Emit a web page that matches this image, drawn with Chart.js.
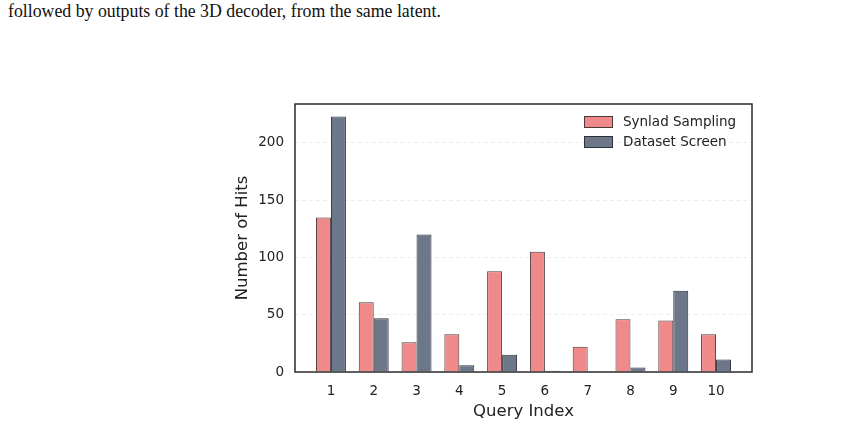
<!DOCTYPE html>
<html>
<head>
<meta charset="utf-8">
<script src="https://cdn.jsdelivr.net/npm/chart.js@4.4.1/dist/chart.umd.min.js"></script>
<style>
  html, body { margin: 0; padding: 0; background: #fff; }
  #wrap { position: relative; width: 865px; height: 425px; }
  #caption { position: absolute; left: 8px; top: 1px; font-family: "Liberation Serif", "DejaVu Serif", serif; font-size: 17.8px; color: #111; white-space: nowrap; }
  canvas { position: absolute; left: 0; top: 0; }
</style>
</head>
<body>
<div id="wrap">
  <div id="caption">followed by outputs of the 3D decoder, from the same latent.</div>
  <canvas id="chart" width="865" height="425"></canvas>
</div>
<script>
// dados
const queryIndex = [1, 2, 3, 4, 5, 6, 7, 8, 9, 10];
const synladSampling = [135, 61, 26, 33, 88, 105, 22, 46, 45, 33];
const datasetScreen = [223, 47, 120, 6, 15, 1, 0, 4, 71, 11];
const yTicks = [0, 50, 100, 150, 200];

const font = "'DejaVu Sans', sans-serif";

// moldura e legenda desenhadas à mão (canto superior direito)
const framePlugin = {
  id: 'frame',
  afterDraw: (chart) => {
    const {left, right, top, bottom} = chart.chartArea;
    const ctx = chart.ctx;
    ctx.save();
    ctx.strokeStyle = '#2b2b2b';
    ctx.lineWidth = 1.5;
    ctx.strokeRect(left, top, right - left, bottom - top);

    ctx.font = '13.5px ' + font;
    ctx.textBaseline = 'middle';
    ctx.textAlign = 'left';
    chart.data.datasets.forEach((ds, i) => {
      const y = top + 18 + i * 20;
      const x = right - 168;
      ctx.fillStyle = ds.backgroundColor;
      ctx.fillRect(x, y - 5.5, 28, 11);
      ctx.strokeStyle = ds.borderColor;
      ctx.lineWidth = 1;
      ctx.strokeRect(x + 0.5, y - 5.5, 28, 11);
      ctx.fillStyle = '#222';
      ctx.fillText(ds.label, x + 39, y);
    });
    ctx.restore();
  }
};

new Chart(document.getElementById('chart'), {
  type: 'bar',
  data: {
    datasets: [
      {
        label: 'Synlad Sampling',
        data: queryIndex.map((q, i) => ({ x: q, y: synladSampling[i] })),
        backgroundColor: '#F08A8A',
        borderColor: '#4a3a3a',
        borderWidth: 1,
        categoryPercentage: 0.7,
        barPercentage: 1.0
      },
      {
        label: 'Dataset Screen',
        data: queryIndex.map((q, i) => ({ x: q, y: datasetScreen[i] })),
        backgroundColor: '#6C7889',
        borderColor: '#2e3238',
        borderWidth: 1,
        categoryPercentage: 0.7,
        barPercentage: 1.0
      }
    ]
  },
  options: {
    responsive: false,
    animation: false,
    layout: { padding: { left: 233, right: 113, top: 104, bottom: 3 } },
    plugins: {
      legend: { display: false },
      tooltip: { enabled: false }
    },
    scales: {
      x: {
        type: 'linear',
        offset: false,
        min: 0.16,
        max: 10.84,
        afterBuildTicks: (scale) => { scale.ticks = queryIndex.map(v => ({ value: v })); },
        afterFit: (scale) => { scale.height = 50; },
        grid: { display: false },
        border: { display: false },
        ticks: { color: '#222', padding: 3, font: { family: font, size: 13.5 }, callback: (v) => String(v) },
        title: { display: true, text: 'Query Index', color: '#222', padding: 0, font: { family: font, size: 16.5 } }
      },
      y: {
        min: 0,
        max: 234,
        afterBuildTicks: (scale) => { scale.ticks = yTicks.map(v => ({ value: v })); },
        afterFit: (scale) => { scale.width = 62; },
        grid: { color: '#ececec', lineWidth: 1, drawTicks: false },
        border: { display: false, dash: [4, 3] },
        ticks: { color: '#222', padding: 11, font: { family: font, size: 13.5 } },
        title: { display: true, text: 'Number of Hits', color: '#222', padding: 0, font: { family: font, size: 16.5 } }
      }
    }
  },
  plugins: [framePlugin]
});
</script>
</body>
</html>
